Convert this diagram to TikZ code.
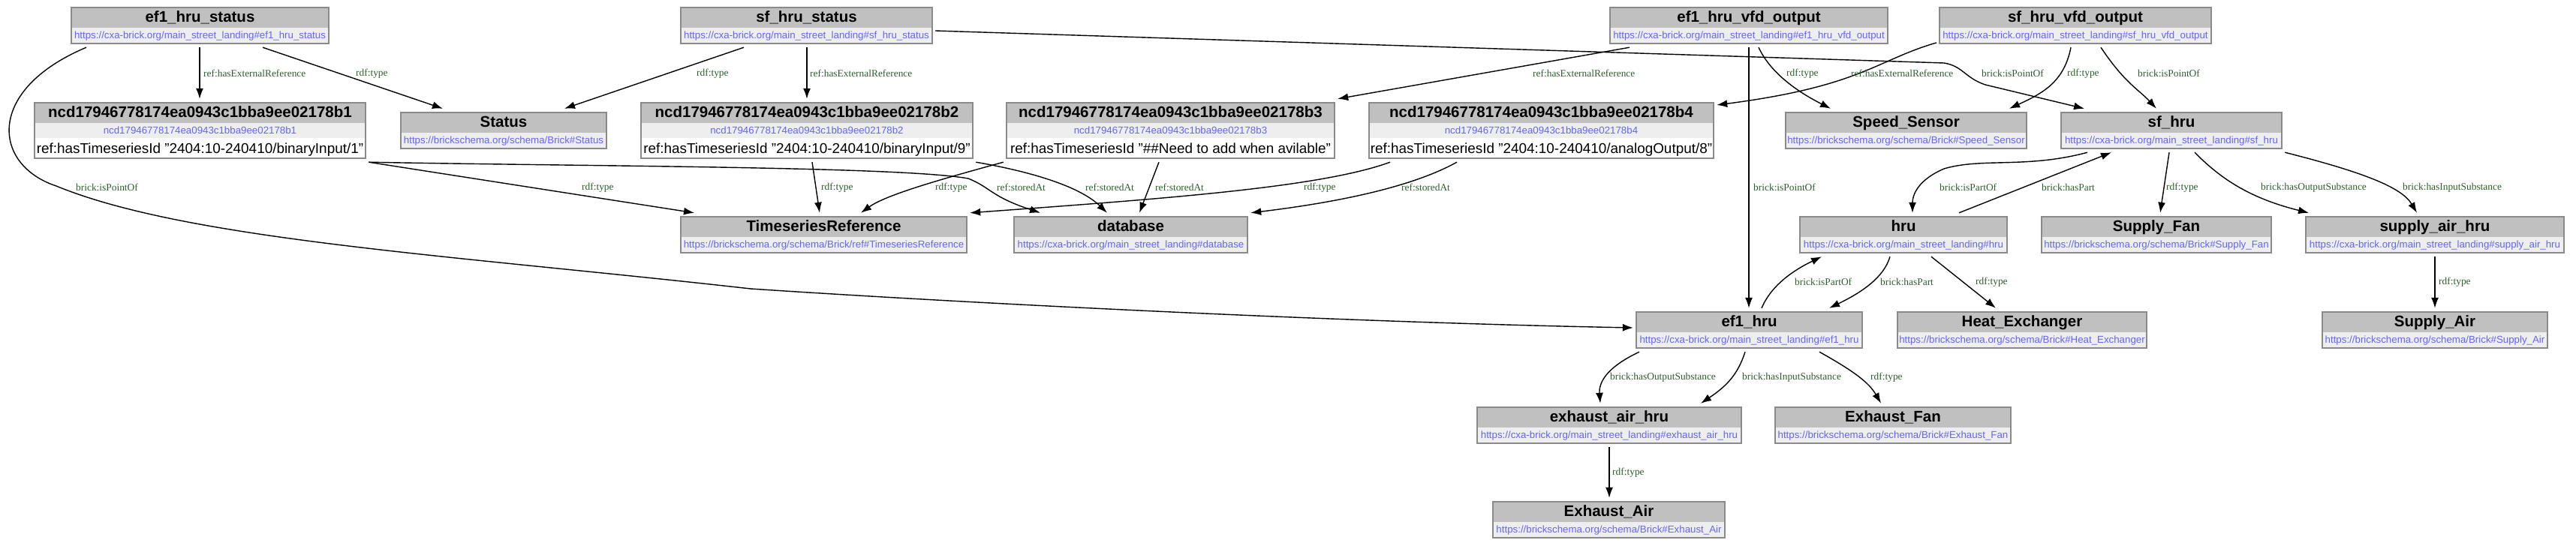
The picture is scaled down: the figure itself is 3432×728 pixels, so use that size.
\documentclass[tikz,border=0pt]{standalone}
\usepackage{fontspec}
\setmainfont{Liberation Sans}
\newfontfamily\lblserif{Liberation Serif}
\usetikzlibrary{arrows.meta,fit}
\definecolor{hdrgray}{HTML}{C0C0C0}
\definecolor{urlband}{HTML}{EEEEEE}
\definecolor{boxgray}{HTML}{8A8A8A}
\definecolor{urlblue}{HTML}{6464FF}
\definecolor{lblgreen}{HTML}{2D5E2D}
\tikzset{
  hdrfill/.style={fill=hdrgray},
  urlfill/.style={fill=urlband},
  attrfill/.style={fill=white},
  boxline/.style={draw=boxgray, line width=1.6pt},
  titletext/.style={inner sep=0pt, anchor=base, font=\bfseries\fontsize{20.5}{24}\selectfont},
  urltext/.style={inner sep=0pt, anchor=base, text=urlblue, font=\fontsize{13.3}{16}\selectfont},
  attrtext/.style={inner sep=0pt, anchor=base, font=\fontsize{18.9}{22}\selectfont},
  elab/.style={anchor=west, inner sep=0pt, text=lblgreen, font=\lblserif\fontsize{13.4}{16}\selectfont},
  rel/.style={draw, line width=1.4pt, -{Latex[length=14pt,width=10pt]}},
}
% name, x1, y1, x2, title, url
\newcommand\twonode[6]{%
  \node[fit={(#2-4,#3-5) (#4+4,#3+53)}, inner sep=0pt] (#1) {};
  \fill[hdrfill] (#2,#3) rectangle (#4,#3+27);
  \fill[urlfill] (#2,#3+27) rectangle (#4,#3+48);
  \draw[boxline] (#2,#3) rectangle (#4,#3+48);
  \node[titletext] (#1-t) at ({(#2+#4)/2},#3+19) {#5};
  \node[urltext] (#1-u) at ({(#2+#4)/2},#3+41.5) {#6};
}
% name, x1, y1, x2, title, url, attr
\newcommand\threenode[7]{%
  \node[fit={(#2-4,#3-5) (#4+4,#3+79)}, inner sep=0pt] (#1) {};
  \fill[hdrfill] (#2,#3) rectangle (#4,#3+27);
  \fill[urlfill] (#2,#3+27) rectangle (#4,#3+47);
  \fill[attrfill] (#2,#3+47) rectangle (#4,#3+74);
  \draw[boxline] (#2,#3) rectangle (#4,#3+74);
  \node[titletext] (#1-t) at ({(#2+#4)/2},#3+19.5) {#5};
  \node[urltext] (#1-u) at ({(#2+#4)/2},#3+41) {#6};
  \node[attrtext] (#1-a) at ({(#2+#4)/2},#3+67) {#7};
}
\begin{document}
\begin{tikzpicture}[x=1pt,y=-1pt]
\fill[white] (0,0) rectangle (3432,728);
\useasboundingbox (0,0) rectangle (3432,728);

% ---- nodes ----
\twonode{efstat}{95}{10}{438}{ef1\_hru\_status}{https://cxa-brick.org/main\_street\_landing\#ef1\_hru\_status}
\twonode{sfstat}{907}{10}{1242}{sf\_hru\_status}{https://cxa-brick.org/main\_street\_landing\#sf\_hru\_status}
\twonode{efvfd}{2145}{10}{2515}{ef1\_hru\_vfd\_output}{https://cxa-brick.org/main\_street\_landing\#ef1\_hru\_vfd\_output}
\twonode{sfvfd}{2584}{10}{2946}{sf\_hru\_vfd\_output}{https://cxa-brick.org/main\_street\_landing\#sf\_hru\_vfd\_output}

\threenode{b1}{46}{137}{487}{ncd17946778174ea0943c1bba9ee02178b1}{ncd17946778174ea0943c1bba9ee02178b1}{ref:hasTimeseriesId "2404:10-240410/binaryInput/1"}
\threenode{b2}{854}{137}{1296}{ncd17946778174ea0943c1bba9ee02178b2}{ncd17946778174ea0943c1bba9ee02178b2}{ref:hasTimeseriesId "2404:10-240410/binaryInput/9"}
\threenode{b3}{1341}{137}{1778}{ncd17946778174ea0943c1bba9ee02178b3}{ncd17946778174ea0943c1bba9ee02178b3}{ref:hasTimeseriesId "\#\#Need to add when avilable"}
\threenode{b4}{1824}{137}{2283}{ncd17946778174ea0943c1bba9ee02178b4}{ncd17946778174ea0943c1bba9ee02178b4}{ref:hasTimeseriesId "2404:10-240410/analogOutput/8"}

\twonode{status}{534}{150}{808}{Status}{https://brickschema.org/schema/Brick\#Status}
\twonode{speed}{2379}{150}{2700}{Speed\_Sensor}{https://brickschema.org/schema/Brick\#Speed\_Sensor}
\twonode{sfhru}{2746}{150}{3040}{sf\_hru}{https://cxa-brick.org/main\_street\_landing\#sf\_hru}

\twonode{tsr}{907}{289}{1288}{TimeseriesReference}{https://brickschema.org/schema/Brick/ref\#TimeseriesReference}
\twonode{db}{1351}{289}{1662}{database}{https://cxa-brick.org/main\_street\_landing\#database}
\twonode{hru}{2398}{289}{2674}{hru}{https://cxa-brick.org/main\_street\_landing\#hru}
\twonode{supfan}{2720}{289}{3026}{Supply\_Fan}{https://brickschema.org/schema/Brick\#Supply\_Fan}
\twonode{sah}{3072}{289}{3416}{supply\_air\_hru}{https://cxa-brick.org/main\_street\_landing\#supply\_air\_hru}

\twonode{ef1hru}{2180}{416}{2481}{ef1\_hru}{https://cxa-brick.org/main\_street\_landing\#ef1\_hru}
\twonode{hx}{2528}{416}{2860}{Heat\_Exchanger}{https://brickschema.org/schema/Brick\#Heat\_Exchanger}
\twonode{supair}{3094}{416}{3394}{Supply\_Air}{https://brickschema.org/schema/Brick\#Supply\_Air}

\twonode{eah}{1968}{543}{2320}{exhaust\_air\_hru}{https://cxa-brick.org/main\_street\_landing\#exhaust\_air\_hru}
\twonode{exfan}{2365}{543}{2679}{Exhaust\_Fan}{https://brickschema.org/schema/Brick\#Exhaust\_Fan}

\twonode{exair}{1989}{669}{2298}{Exhaust\_Air}{https://brickschema.org/schema/Brick\#Exhaust\_Air}

% ---- edges ----
\draw[rel] (efstat.south -| 266,0) -- (b1.north -| 266,0);
\draw[rel] (efstat.south -| 350,0) -- (status.north -| 590,0);
\draw[rel] (efstat.south -| 115,0) .. controls (-20,120) and (-10,220) .. (75,248)
   .. controls (250,320) and (600,340) .. (1000,385)
   .. controls (1300,405) and (1800,430) .. (ef1hru.west |- 0,437);
\draw[rel] (sfstat.south -| 991,0) -- (status.north -| 752,0);
\draw[rel] (sfstat.south -| 1075,0) -- (b2.north -| 1075,0);
\draw[rel] (sfstat.east |- 0,41) -- (2590,84) .. controls (2615,88) and (2618,104) .. (2645,113) -- (sfhru.north -| 2777,0);
\draw[rel] (sfvfd.south -| 2799,0) .. controls (2830,110) and (2850,120) .. (sfhru.north -| 2873,0);
\draw[rel] (sfvfd.south -| 2759,0) .. controls (2750,110) and (2720,125) .. (speed.north -| 2677,0);
\draw[rel] (sfvfd.west |- 0,57) .. controls (2500,80) and (2480,115) .. (b4.east |- 0,140);
\draw[rel] (efvfd.south -| 2171,0) -- (b3.north east);
\draw[rel] (efvfd.south -| 2343,0) .. controls (2360,100) and (2400,125) .. (speed.north -| 2439,0);
\draw[rel] (efvfd.south -| 2330,0) -- (ef1hru.north -| 2330,0);

\draw[rel] (b1.south east) -- (tsr.north -| 925,0);
\draw[rel] (b1.south east) .. controls (800,222) and (1200,222) .. (1290,238)
   .. controls (1320,250) and (1320,262) .. (db.north -| 1386,0);
\draw[rel] (b2.south -| 1082,0) -- (tsr.north -| 1092,0);
\draw[rel] (b2.south east) .. controls (1380,230) and (1440,250) .. (db.north -| 1475,0);
\draw[rel] (b3.south west) .. controls (1250,240) and (1180,260) .. (tsr.north -| 1147,0);
\draw[rel] (b3.south -| 1544,0) -- (db.north -| 1518,0);
\draw[rel] (b4.south -| 1852,0) .. controls (1760,250) and (1550,265) .. (tsr.north east);
\draw[rel] (b4.south -| 1941,0) .. controls (1880,250) and (1780,270) .. (db.north east);

\draw[rel] (hru.north -| 2610,0) -- (sfhru.south -| 2813,0);
\draw[rel] (sfhru.south -| 2781,0) .. controls (2700,225) and (2640,210) .. (2590,225)
   .. controls (2555,240) and (2548,260) .. (hru.north -| 2548,0);
\draw[rel] (sfhru.south -| 2890,0) -- (supfan.north -| 2878,0);
\draw[rel] (sfhru.south -| 2924,0) .. controls (2960,240) and (3000,265) .. (sah.north -| 3076,0);
\draw[rel] (sfhru.south east) .. controls (3150,230) and (3200,250) .. (sah.north -| 3220,0);
\draw[rel] (sah.south -| 3244,0) -- (supair.north -| 3244,0);
\draw[rel] (hru.south -| 2518,0) .. controls (2510,370) and (2480,390) .. (ef1hru.north -| 2437,0);
\draw[rel] (ef1hru.north -| 2347,0) .. controls (2360,380) and (2390,360) .. (hru.south -| 2427,0);
\draw[rel] (hru.south -| 2573,0) -- (hx.north -| 2659,0);
\draw[rel] (ef1hru.south -| 2184,0) .. controls (2140,490) and (2130,510) .. (eah.north -| 2132,0);
\draw[rel] (ef1hru.south -| 2325,0) .. controls (2315,500) and (2300,515) .. (eah.north -| 2266,0);
\draw[rel] (ef1hru.south -| 2424,0) .. controls (2470,495) and (2490,510) .. (exfan.north -| 2506,0);
\draw[rel] (eah.south -| 2144,0) -- (exair.north -| 2144,0);

% ---- edge labels ----
\node[elab] (l1) at (271,98) {ref:hasExternalReference};
\node[elab] (l2) at (474,98) {rdf:type};
\node[elab] (l3) at (101,250) {brick:isPointOf};
\node[elab] (l4) at (928,98) {rdf:type};
\node[elab] (l5) at (1079,98) {ref:hasExternalReference};
\node[elab] (l6) at (2640,98) {brick:isPointOf};
\node[elab] (l7) at (2848,98) {brick:isPointOf};
\node[elab] (l8) at (2754,98) {rdf:type};
\node[elab] (l9) at (2466,98) {ref:hasExternalReference};
\node[elab] (l10) at (2042,98) {ref:hasExternalReference};
\node[elab] (l11) at (2380,98) {rdf:type};
\node[elab] (l12) at (2336,250) {brick:isPointOf};
\node[elab] (l13) at (775,250) {rdf:type};
\node[elab] (l14) at (1328,250) {ref:storedAt};
\node[elab] (l15) at (1094,250) {rdf:type};
\node[elab] (l16) at (1446,250) {ref:storedAt};
\node[elab] (l17) at (1246,250) {rdf:type};
\node[elab] (l18) at (1539,250) {ref:storedAt};
\node[elab] (l19) at (1737,250) {rdf:type};
\node[elab] (l20) at (1867,250) {ref:storedAt};
\node[elab] (l21) at (2720,250) {brick:hasPart};
\node[elab] (l22) at (2584,250) {brick:isPartOf};
\node[elab] (l23) at (2886,250) {rdf:type};
\node[elab] (l24) at (3012,250) {brick:hasOutputSubstance};
\node[elab] (l25) at (3201,250) {brick:hasInputSubstance};
\node[elab] (l26) at (3249,376) {rdf:type};
\node[elab] (l27) at (2505,376) {brick:hasPart};
\node[elab] (l28) at (2391,376) {brick:isPartOf};
\node[elab] (l29) at (2632,376) {rdf:type};
\node[elab] (l30) at (2145,503) {brick:hasOutputSubstance};
\node[elab] (l31) at (2321,503) {brick:hasInputSubstance};
\node[elab] (l32) at (2492,503) {rdf:type};
\node[elab] (l33) at (2148,630) {rdf:type};
\end{tikzpicture}
\end{document}
